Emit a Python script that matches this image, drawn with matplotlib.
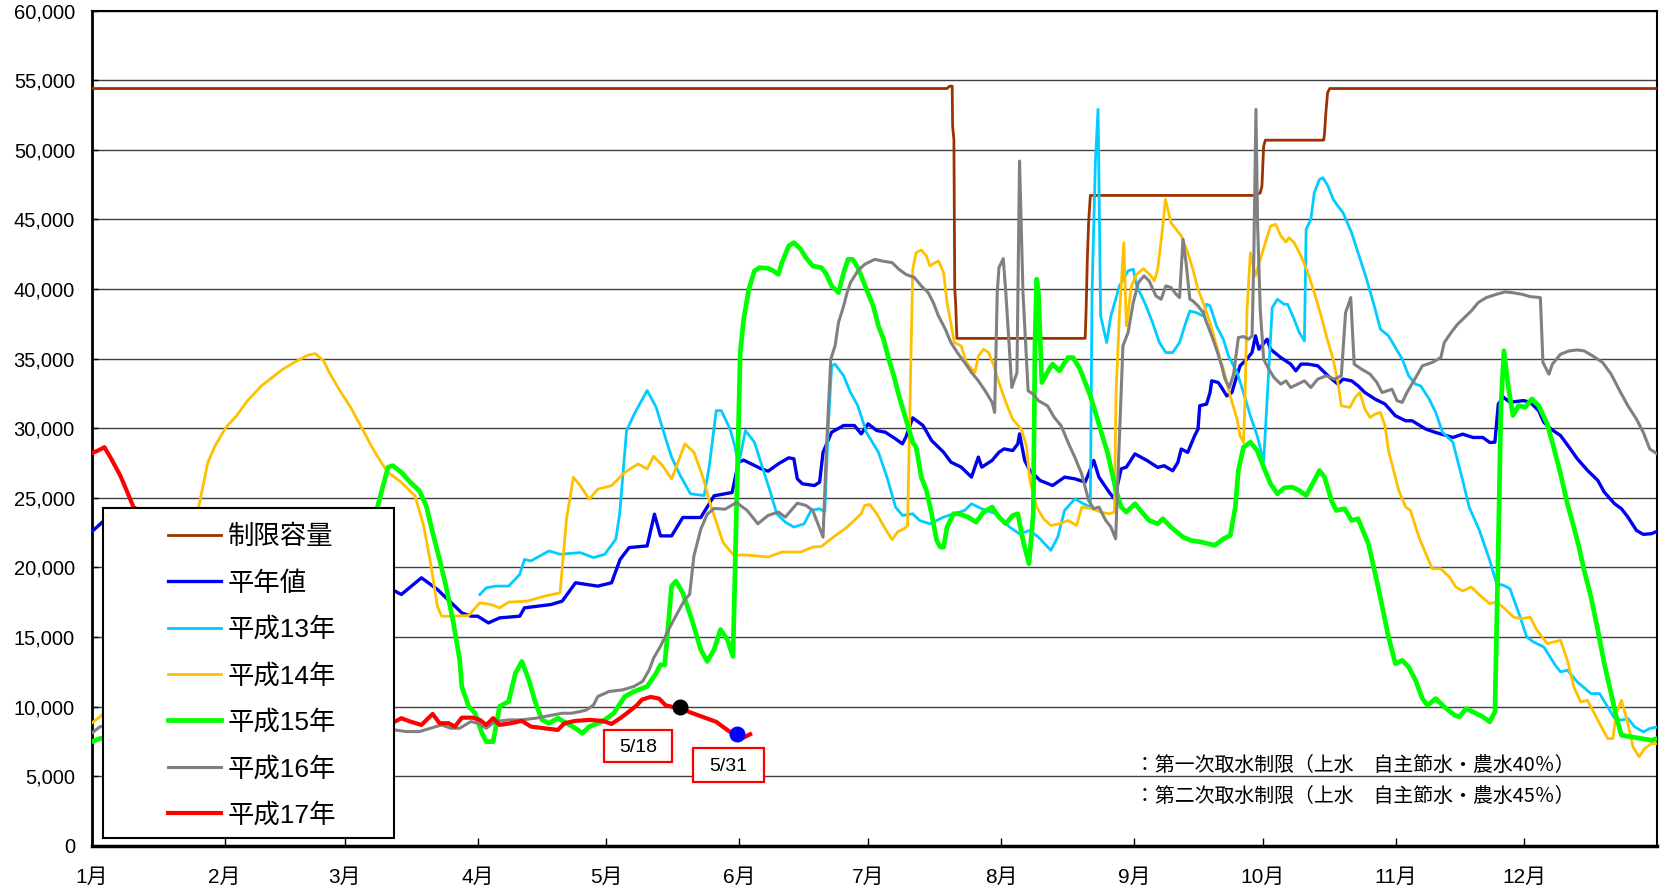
import matplotlib
matplotlib.use('Agg')
import matplotlib.pyplot as plt
from matplotlib.patches import Rectangle
from matplotlib.ticker import FuncFormatter

plt.rcParams['font.family'] = ['Liberation Sans', 'Noto Sans CJK JP', 'DejaVu Sans']

# x = day of year (0 = 1月1日), y = 貯水量
month_days = [0, 31, 59, 90, 120, 151, 181, 212, 243, 273, 304, 334]
month_labels = ['1月', '2月', '3月', '4月', '5月', '6月', '7月', '8月', '9月', '10月', '11月', '12月']

cap_day = [0, 199.4, 200.0, 200.6, 200.7, 201.0, 201.2, 201.4, 201.7, 231.6, 231.8, 232.1, 232.4, 232.8,
           270.9, 272.4, 272.8, 273.2, 273.6, 287.2, 287.4, 287.7, 288.1, 288.6, 365]
cap_val = [54400, 54400, 54570, 54570, 51700, 50740, 40000, 39020, 36450, 36450, 38300, 42130, 44760, 46720,
           46720, 46900, 47390, 50260, 50690, 50690, 51220, 52660, 54090, 54400, 54400]

avg_day = [0, 2.7, 10, 30, 50, 65, 70.7, 72.2, 76.9, 80.6, 86.3, 88.4, 90.0, 92.5, 95.1, 99.8, 100.9, 107.1,
           109.7, 112.8, 118.0, 121.2, 123.2, 125.3, 129.5, 131.2, 132.6, 135.2, 137.8, 142.0, 145.1, 149.3,
           150.8, 152.0, 156.1, 157.7, 160.1, 162.5, 163.7, 164.5, 165.7, 168.5, 169.7, 170.5, 172.5, 175.3,
           177.8, 179.4, 181.0, 183.0, 185.0, 187.4, 189.0, 189.8, 191.4, 193.8, 195.8, 198.6, 200.3, 202.7,
           205.1, 206.7, 207.5, 209.9, 211.5, 212.7, 214.7, 215.9, 216.3, 217.5, 218.7, 221.1, 224.0, 226.8,
           229.2, 231.6, 233.6, 234.8, 237.2, 238.4, 240.0, 241.2, 243.2, 246.0, 248.5, 250.0, 252.0, 253.2,
           254.0, 255.5, 257.1, 257.9, 258.3, 259.9, 260.7, 261.1, 262.6, 263.4, 264.6, 265.8, 266.6, 267.7,
           269.3, 270.5, 271.3, 272.1, 274.0, 274.8, 277.2, 279.5, 280.7, 281.9, 283.5, 285.8, 288.2, 290.5,
           291.7, 293.7, 295.2, 296.8, 299.2, 301.5, 303.9, 306.3, 307.8, 311.0, 313.3, 317.3, 319.6, 322.0,
           324.3, 325.9, 327.1, 327.9, 329.1, 330.6, 333.8, 335.3, 337.3, 338.5, 340.1, 342.4, 344.4, 346.3,
           348.7, 351.1, 352.6, 355.0, 356.6, 358.1, 360.1, 361.7, 363.6, 365]
avg_val = [22550, 23300, 22800, 21000, 19600, 18800, 18290, 18050, 19250, 18410, 16730, 16490, 16490, 16010,
           16370, 16490, 17090, 17330, 17570, 18890, 18650, 18890, 20570, 21420, 21540, 23820, 22260, 22260,
           23580, 23580, 25140, 25380, 27560, 27700, 27080, 26910, 27440, 27870, 27800, 26360, 26000, 25880,
           26120, 28270, 29710, 30190, 30190, 29590, 30310, 29830, 29710, 29230, 28870, 29350, 30740, 30190,
           29110, 28270, 27560, 27200, 26480, 27920, 27200, 27680, 28270, 28510, 28390, 28870, 29590, 27680,
           26960, 26240, 25880, 26480, 26360, 26120, 27680, 26480, 25400, 24920, 27080, 27200, 28150, 27680,
           27180, 27300, 26940, 27540, 28500, 28260, 29450, 29930, 31610, 31730, 32560, 33400, 33280, 32920,
           32320, 32560, 33400, 34480, 34960, 35440, 36630, 35670, 36390, 35670, 35070, 34600, 34120, 34600,
           34600, 34480, 33760, 33160, 33520, 33400, 33040, 32560, 32080, 31730, 30890, 30530, 30530, 29930,
           29690, 29330, 29570, 29330, 29330, 28970, 28990, 31740, 32220, 31860, 31980, 31860, 31260, 30430,
           29950, 29470, 28630, 27800, 26960, 26240, 25400, 24570, 24210, 23610, 22650, 22370, 22420, 22600]

h13_day = [90.5, 92.0, 94.1, 97.2, 99.8, 100.9, 102.4, 106.6, 109.2, 113.9, 117.0, 119.6, 122.2, 123.1, 124.7,
           126.7, 129.5, 131.6, 133.6, 135.2, 137.2, 139.6, 142.8, 144.0, 145.6, 146.8, 148.8, 150.0, 150.8,
           152.4, 154.5, 156.1, 158.1, 159.7, 161.7, 163.7, 166.1, 167.7, 169.7, 170.9, 171.7, 172.5, 173.3,
           175.3, 176.9, 178.6, 180.6, 183.4, 185.4, 187.4, 189.0, 191.4, 193.0, 195.4, 198.6, 203.5, 205.1,
           207.5, 210.8, 214.0, 216.3, 218.7, 220.7, 223.6, 225.2, 226.8, 229.2, 231.2, 232.8, 233.2, 234.0,
           234.6, 235.2, 236.6, 237.6, 239.6, 241.6, 242.8, 243.6, 245.5, 247.3, 248.9, 250.4, 252.0, 253.6,
           254.8, 256.0, 257.5, 259.1, 259.9, 260.7, 262.2, 263.8, 265.0, 267.0, 268.5, 270.1, 271.7, 273.2,
           275.2, 276.4, 278.0, 278.8, 280.3, 281.5, 282.7, 283.1, 284.2, 285.0, 286.2, 287.0, 288.2, 289.4,
           290.5, 291.7, 293.7, 295.2, 297.2, 299.2, 300.4, 302.3, 303.9, 305.5, 307.0, 308.6, 309.8, 311.8,
           313.3, 314.9, 317.3, 319.6, 321.1, 323.5, 325.9, 327.5, 329.1, 330.6, 333.0, 334.5, 336.1, 338.5,
           341.2, 342.4, 344.0, 346.3, 349.5, 351.5, 353.4, 355.0, 356.6, 358.1, 359.7, 361.7, 363.2, 365]
h13_val = [18050, 18530, 18650, 18650, 19490, 20570, 20460, 21180, 20940, 21060, 20700, 20940, 22020, 23850,
           29830, 31140, 32700, 31500, 29470, 27910, 26600, 25280, 25160, 27320, 31260, 31260, 29950, 28630,
           27320, 29830, 28990, 27440, 25520, 23850, 23250, 22890, 23130, 24090, 24210, 24000, 30000, 34480,
           34600, 33760, 32560, 31610, 29700, 28270, 26480, 24330, 23730, 23850, 23370, 23130, 23610, 24090,
           24570, 24210, 23850, 22890, 22410, 22650, 22170, 21220, 22170, 24090, 24920, 24570, 24330, 39740,
           49310, 52900, 38070, 36150, 38070, 40220, 41300, 41420, 40220, 39000, 37590, 36150, 35430, 35430,
           36150, 37350, 38420, 38300, 38060, 38900, 38800, 37350, 36390, 35190, 34000, 32560, 30890, 29450,
           27600, 38660, 39260, 38900, 38900, 37830, 36870, 36270, 44280, 45000, 46910, 47870, 47990, 47390,
           46440, 45960, 45480, 44040, 42610, 40700, 38540, 37110, 36630, 35790, 34960, 33760, 33160, 33040,
           32080, 31130, 29690, 29000, 26240, 24330, 22650, 20500, 18830, 18710, 18470, 16430, 15000, 14640,
           14280, 12960, 12490, 12610, 11770, 10930, 10930, 9970, 9140, 9020, 9140, 8540, 8180, 8420, 8540]

h14_day = [0, 2.0, 10, 20, 24.9, 26.3, 27.1, 28.8, 31.3, 33.8, 36.3, 39.6, 44.6, 47.9, 50.4, 52.1, 54.1, 55.4,
           57.9, 60.4, 62.9, 65.4, 67.5, 69.1, 72.2, 75.4, 77.4, 79.0, 80.6, 81.6, 83.7, 87.9, 90.5, 93.1, 95.1,
           97.2, 101.4, 105.6, 109.2, 110.7, 112.3, 113.9, 116.0, 118.0, 121.2, 124.3, 127.4, 129.5, 131.0,
           133.1, 135.2, 138.3, 140.4, 142.5, 144.1, 147.2, 149.8, 151.3, 153.7, 157.7, 160.9, 165.3, 168.1,
           170.1, 172.9, 176.1, 179.4, 180.2, 181.4, 183.0, 185.0, 186.6, 187.8, 189.4, 190.2, 191.4, 192.2,
           193.4, 194.6, 195.4, 196.6, 197.4, 198.6, 199.4, 200.7, 201.1, 202.7, 203.9, 205.9, 206.7, 207.9,
           209.1, 210.3, 211.5, 213.1, 214.7, 216.7, 217.9, 218.7, 220.3, 221.9, 223.6, 225.6, 227.6, 229.6,
           230.8, 233.2, 235.2, 237.2, 238.4, 238.8, 239.6, 240.6, 241.2, 242.4, 243.6, 245.2, 246.9, 247.7,
           248.5, 249.7, 250.3, 251.6, 252.8, 254.0, 255.5, 256.7, 257.9, 259.1, 260.7, 262.2, 263.8, 265.4,
           267.0, 267.7, 268.5, 268.9, 269.3, 270.1, 271.3, 272.4, 273.6, 274.8, 276.0, 277.2, 278.4, 279.1,
           280.3, 281.9, 283.5, 285.0, 286.6, 287.8, 289.4, 290.5, 291.3, 293.3, 294.5, 295.6, 296.8, 298.0,
           299.2, 300.4, 301.5, 302.3, 304.7, 306.3, 307.4, 309.4, 311.0, 312.5, 314.5, 316.5, 318.0, 319.6,
           321.6, 323.6, 325.9, 327.5, 329.4, 331.4, 333.4, 335.3, 336.9, 339.3, 342.4, 344.0, 345.5, 347.1,
           348.7, 349.9, 351.5, 353.4, 354.6, 355.4, 356.6, 358.1, 359.3, 360.7, 362.0, 363.6, 365]
h14_val = [8800, 9280, 12000, 19000, 24230, 26340, 27540, 28740, 30050, 30890, 31960, 33040, 34240, 34840,
           35240, 35360, 34840, 34000, 32680, 31490, 30050, 28620, 27540, 26820, 26110, 25140, 22980, 20340,
           17210, 16490, 16490, 16540, 17450, 17330, 17090, 17500, 17570, 17930, 18170, 23460, 26470, 25870,
           24900, 25620, 25870, 26830, 27430, 27070, 27980, 27310, 26350, 28870, 28270, 26470, 24660, 21780,
           20820, 20900, 20860, 20740, 21100, 21100, 21460, 21500, 22170, 22890, 23850, 24450, 24520, 23850,
           22770, 21980, 22530, 22770, 23000, 41410, 42610, 42800, 42370, 41650, 41890, 42010, 41170, 39020,
           36870, 36150, 35910, 34720, 34000, 35190, 35670, 35430, 34480, 33280, 31850, 30650, 29930, 28740,
           26240, 24330, 23490, 23010, 23130, 23370, 23010, 24330, 24210, 23970, 23850, 23970, 32560, 38300,
           43330, 37350, 40220, 41060, 41460, 40940, 40580, 41410, 44520, 46440, 44760, 44280, 43810, 42610,
           41410, 39980, 39020, 37590, 35910, 34240, 32320, 30650, 29450, 28980, 32560, 38300, 42610, 40940,
           42130, 43330, 44520, 44640, 43810, 43370, 43690, 43330, 42370, 41170, 39740, 38060, 36630, 34960,
           33280, 31610, 31490, 32200, 32560, 31370, 30770, 31010, 31130, 30170, 28390, 25520, 24330, 24090,
           22170, 20980, 19900, 19900, 19300, 18590, 18300, 18590, 17990, 17390, 17510, 17030, 16430, 16310,
           16430, 15480, 14520, 14760, 13320, 11410, 10330, 10450, 9740, 8780, 7700, 7700, 9500, 10450, 8780,
           7100, 6390, 6980, 7340, 7340]

h15_day = [0, 2.0, 30, 55, 62, 66.5, 69.1, 70.2, 72.2, 74.3, 76.4, 78.0, 79.5, 81.1, 82.6, 84.2, 85.8, 86.3,
           87.9, 89.4, 91.0, 92.0, 93.6, 95.1, 97.2, 98.8, 100.3, 101.9, 103.5, 105.0, 106.6, 108.7, 110.7,
           112.8, 114.4, 116.0, 119.1, 121.7, 124.3, 126.4, 129.5, 131.6, 132.6, 133.6, 135.2, 136.2, 137.8,
           139.9, 142.0, 143.5, 145.1, 146.6, 148.2, 149.5, 150.3, 151.2, 152.0, 153.2, 154.5, 155.7, 157.7,
           158.9, 160.1, 160.9, 162.5, 163.7, 165.3, 166.5, 168.1, 170.1, 171.3, 172.5, 174.1, 175.3, 176.3,
           177.4, 178.6, 179.4, 180.6, 182.2, 183.4, 184.6, 185.8, 187.0, 188.2, 189.8, 191.4, 192.2, 193.4,
           194.6, 195.8, 197.0, 197.8, 198.6, 199.4, 200.9, 202.2, 204.3, 206.2, 207.9, 209.9, 211.5, 213.1,
           214.7, 215.9, 217.1, 218.5, 219.5, 219.9, 220.3, 220.7, 221.5, 223.2, 224.0, 225.6, 227.6, 228.8,
           230.4, 231.6, 232.8, 234.0, 235.6, 236.8, 238.0, 238.8, 240.0, 241.2, 243.2, 244.8, 246.5, 248.5,
           249.7, 251.6, 254.4, 256.3, 258.7, 261.8, 263.8, 265.4, 266.6, 267.3, 268.5, 270.1, 271.7, 273.2,
           274.8, 276.4, 278.0, 279.9, 281.5, 283.1, 284.6, 286.2, 287.4, 289.0, 290.1, 292.1, 293.7, 295.2,
           297.6, 299.2, 300.7, 302.3, 303.9, 305.5, 307.0, 308.6, 310.2, 311.4, 313.3, 315.3, 317.7, 318.8,
           320.4, 322.0, 324.3, 325.9, 327.1, 327.9, 328.5, 329.2, 330.2, 331.3, 332.6, 334.2, 335.7, 337.3,
           339.3, 340.8, 342.4, 344.0, 345.5, 346.7, 347.9, 349.5, 351.1, 352.6, 354.2, 355.4, 356.6, 358.9,
           361.3, 363.6, 365]
h15_val = [7470, 7710, 8000, 9000, 13000, 24180, 27190, 27310, 26830, 26110, 25500, 24420, 22500, 20580,
           18650, 16250, 13360, 11440, 10000, 9520, 8080, 7480, 7480, 10000, 10360, 12400, 13240, 11920, 10240,
           9040, 8800, 9160, 8800, 8440, 8080, 8560, 8920, 9520, 10720, 11080, 11440, 12400, 13000, 13000,
           18650, 19010, 18170, 16250, 14090, 13240, 14090, 15530, 14810, 13600, 23850, 35430, 37830, 39980,
           41300, 41530, 41480, 41300, 41050, 41890, 43090, 43330, 42850, 42250, 41650, 41530, 41050, 40220,
           39740, 41170, 42130, 42130, 41530, 40940, 39980, 38780, 37350, 36390, 34960, 33760, 32320, 30650,
           28980, 28630, 26480, 25520, 23850, 21940, 21460, 21460, 22890, 23850, 23850, 23610, 23250, 23970,
           24330, 23610, 23130, 23730, 23850, 21940, 20260, 23850, 36150, 40700, 39740, 33280, 34240, 34600,
           34120, 35070, 35070, 34240, 33280, 32320, 31130, 29450, 28260, 26580, 25520, 24330, 23970, 24570,
           23970, 23370, 23130, 23490, 22890, 22170, 21930, 21820, 21580, 22050, 22290, 24330, 26960, 28630,
           28990, 28390, 27200, 26000, 25280, 25710, 25760, 25520, 25160, 26000, 26960, 26480, 24810, 24090,
           24210, 23370, 23490, 21700, 19540, 17390, 15000, 13080, 13320, 12840, 11890, 10570, 10090, 10570,
           9970, 9380, 9260, 9860, 9620, 9260, 8900, 9620, 21460, 31500, 35550, 33000, 30910, 31620, 31500,
           32100, 31620, 30310, 28630, 26720, 24570, 22890, 21460, 19780, 17870, 15480, 13080, 10930, 9260,
           7940, 7820, 7700, 7580, 7700]

h16_day = [0, 2.0, 30, 50, 70.7, 73.3, 76.4, 79.0, 81.6, 83.7, 85.8, 88.4, 90.0, 92.0, 94.1, 97.2, 100.3,
           103.5, 107.6, 109.7, 111.8, 113.9, 115.4, 117.0, 118.0, 120.6, 123.8, 126.4, 128.4, 130.0, 131.0,
           132.6, 134.7, 136.8, 138.3, 139.4, 140.4, 142.0, 143.5, 145.1, 147.7, 150.3, 152.8, 155.3, 157.7,
           160.1, 161.7, 164.5, 166.5, 168.1, 169.3, 170.5, 171.3, 172.3, 173.3, 174.1, 175.3, 176.1, 176.9,
           178.6, 180.2, 182.6, 184.2, 186.6, 188.2, 189.8, 191.8, 193.4, 195.0, 196.2, 197.4, 199.0, 200.3,
           201.8, 203.5, 205.1, 206.7, 208.3, 209.9, 210.5, 211.1, 211.5, 212.5, 213.1, 214.5, 215.7, 216.3,
           217.1, 218.3, 219.5, 220.7, 222.8, 224.4, 226.0, 227.6, 229.2, 230.8, 232.4, 233.6, 234.8, 236.4,
           237.6, 238.7, 239.2, 240.4, 241.6, 242.8, 244.0, 245.3, 246.5, 248.1, 249.3, 250.4, 251.6, 252.8,
           253.6, 254.4, 255.2, 256.0, 256.7, 257.9, 259.1, 259.9, 261.1, 262.2, 263.4, 264.2, 265.2, 266.2,
           267.3, 268.5, 269.7, 270.5, 270.9, 271.4, 271.8, 272.4, 273.2, 274.4, 275.6, 277.2, 278.4, 279.5,
           281.1, 282.7, 284.2, 285.8, 287.8, 289.7, 291.3, 292.3, 293.5, 294.3, 296.0, 298.0, 299.6, 300.8,
           302.0, 303.1, 304.3, 305.5, 306.6, 308.2, 310.2, 312.5, 314.5, 315.3, 316.9, 318.4, 320.0, 321.6,
           323.2, 325.1, 327.5, 329.4, 331.0, 333.4, 335.3, 337.7, 338.3, 339.7, 340.5, 342.4, 344.4, 346.3,
           347.9, 349.9, 352.2, 354.2, 356.2, 358.1, 360.1, 361.7, 363.2, 365]
h16_val = [8080, 8560, 8500, 8300, 8320, 8200, 8200, 8440, 8680, 8440, 8440, 8920, 8800, 8440, 8920, 9040,
           9040, 9160, 9400, 9520, 9520, 9640, 9760, 10120, 10720, 11080, 11200, 11440, 11800, 12640, 13480,
           14330, 15650, 16850, 17690, 18050, 20820, 22740, 23820, 24230, 24180, 24660, 24090, 23130, 23730,
           23970, 23610, 24610, 24450, 24090, 23130, 22170, 28630, 34960, 35910, 37590, 38780, 39740, 40460,
           41300, 41770, 42130, 42010, 41890, 41410, 41050, 40820, 40220, 39740, 39020, 38060, 37110, 36150,
           35430, 34720, 34000, 33400, 32680, 31850, 31130, 39740, 41530, 42180, 39740, 32920, 34000, 49190,
           39740, 32680, 32440, 31970, 31610, 30770, 30170, 28980, 27900, 26700, 24810, 24210, 24330, 23370,
           22890, 22050, 26240, 35910, 36870, 39020, 40460, 40940, 40580, 39500, 39260, 40220, 40100, 39620,
           39380, 43570, 41650, 39260, 39140, 38780, 38300, 37590, 36630, 35670, 34480, 33520, 32920, 33880,
           36510, 36580, 36390, 36630, 42130, 52900, 44520, 38540, 34960, 34240, 33640, 33160, 33400, 32920,
           33160, 33400, 32920, 33520, 33760, 33520, 33760, 38300, 39380, 34600, 34240, 33880, 33280, 32560,
           32680, 32800, 31970, 31850, 32560, 33400, 34480, 34720, 35070, 36150, 36870, 37470, 37950, 38420,
           39020, 39380, 39620, 39790, 39740, 39620, 39450, 39380, 34720, 33880, 34600, 35310, 35550, 35620,
           35550, 35190, 34720, 33880, 32680, 31610, 30650, 29690, 28500, 28140]

h17_day = [0, 1.5, 3.0, 4.6, 6.7, 8.2, 9.8, 10.3, 20, 40, 60, 70.7, 72.2, 74.3, 76.9, 79.5, 81.1, 83.2, 84.7,
           86.3, 88.9, 90.5, 92.0, 93.6, 95.1, 97.7, 100.3, 102.4, 105.5, 108.7, 110.2, 112.8, 116.0, 119.1,
           121.2, 123.2, 124.7, 127.1, 128.3, 130.3, 132.3, 133.8, 135.4, 137.2, 139.2, 142.4, 145.6, 147.2,
           148.8, 150.4, 152.0, 153.5]
h17_val = [28200, 28390, 28630, 27790, 26590, 25500, 24300, 24230, 18000, 12000, 9500, 8920, 9160, 8920, 8680,
           9470, 8800, 8800, 8560, 9200, 9200, 9040, 8680, 9160, 8680, 8800, 8970, 8560, 8440, 8320, 8800,
           8970, 9040, 8970, 8750, 9160, 9500, 10090, 10500, 10690, 10570, 10090, 9975, 9975, 9620, 9260,
           8900, 8540, 8180, 8010, 7770, 8010]

# 5/18 and 5/31 markers on 平成17年
mark_day = [137.2, 150.4]
mark_val = [9975, 8010]
mark_text = ['5/18', '5/31']

notes = ['：第一次取水制限（上水　自主節水・農水40％）',
         '：第二次取水制限（上水　自主節水・農水45％）']


def draw_chart(path):
    fig = plt.figure(figsize=(16.68, 8.96), dpi=100)
    ax = fig.add_axes([0.0549, 0.0561, 0.9388, 0.9321])

    ax.plot(cap_day, cap_val, color='#993300', lw=2.0, label='制限容量', zorder=3)
    ax.plot(avg_day, avg_val, color='#0000EE', lw=2.4, label='平年値', zorder=3)
    ax.plot(h13_day, h13_val, color='#00CCFF', lw=2.0, label='平成13年', zorder=3)
    ax.plot(h14_day, h14_val, color='#FFC000', lw=2.0, label='平成14年', zorder=3)
    ax.plot(h15_day, h15_val, color='#00FF00', lw=3.4, label='平成15年', zorder=3)
    ax.plot(h16_day, h16_val, color='#808080', lw=2.2, label='平成16年', zorder=3)
    ax.plot(h17_day, h17_val, color='#FF0000', lw=3.0, label='平成17年', zorder=4)

    ax.plot(mark_day[0], mark_val[0], 'o', color='black', ms=10.5, zorder=5)
    ax.plot(mark_day[1], mark_val[1], 'o', color='#0000FF', ms=10.5, zorder=5)

    # date boxes under the markers
    boxes = [(119.5, 6040, 15.9, 2290), (140.1, 4590, 16.6, 2440)]
    for (bx, by, bw, bh), txt in zip(boxes, mark_text):
        ax.add_patch(Rectangle((bx, by), bw, bh, facecolor='white', edgecolor='#FF0000', lw=1.6, zorder=4))
        ax.text(bx + bw / 2, by + bh * 0.45, txt, ha='center', va='center', fontsize=14, zorder=4.5)

    for i, t in enumerate(notes):
        ax.text(243.2, 5750 - i * 2200, t, fontsize=14.3, va='center', ha='left',
                family=['Noto Sans CJK JP', 'DejaVu Sans'], zorder=4)

    ax.set_xlim(0, 365)
    ax.set_ylim(0, 60000)
    ax.set_xticks(month_days)
    ax.set_xticklabels(month_labels)
    ax.set_yticks(range(0, 60001, 5000))
    ax.yaxis.set_major_formatter(FuncFormatter(lambda v, p: f'{int(v):,}'))
    ax.tick_params(axis='x', direction='in', length=6, width=1, pad=16, labelsize=15)
    ax.tick_params(axis='y', direction='in', length=4, width=1, pad=12, labelsize=14.5)
    ax.yaxis.grid(True, color='#404040', lw=1.0)
    ax.set_axisbelow(True)
    for side in ['top', 'right']:
        ax.spines[side].set_linewidth(1.5)
    ax.spines['left'].set_linewidth(2.0)
    ax.spines['bottom'].set_linewidth(2.5)

    # legend frame drawn by hand so the padding can match
    ax.add_patch(Rectangle((0.0073, 0.0092), 0.1859, 0.3952, transform=ax.transAxes,
                           facecolor='white', edgecolor='black', lw=1.5, zorder=6))
    leg = ax.legend(loc='upper left', bbox_to_anchor=(0.0489, 0.384), frameon=False,
                    fontsize=19, borderpad=0, borderaxespad=0, handlelength=2.0,
                    handletextpad=0.25, labelspacing=0.82)
    leg.set_zorder(7)

    fig.savefig(path, dpi=100)
    plt.close(fig)


def main():
    draw_chart('out.png')


if __name__ == '__main__':
    main()
